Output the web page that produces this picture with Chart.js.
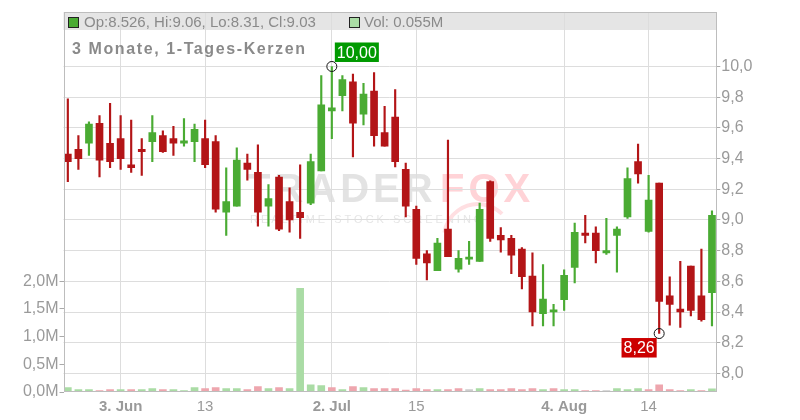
<!DOCTYPE html>
<html>
<head>
<meta charset="utf-8">
<script src="https://cdn.jsdelivr.net/npm/chart.js@4"></script>
<style>
  html, body { margin: 0; padding: 0; background: #fff; }
</style>
</head>
<body>
<canvas id="chart" width="800" height="420"></canvas>
<script>
// --- data (daily candles, last 3 months) ---
const open  = [9.43, 9.46, 9.50, 9.63, 9.50, 9.53, 9.36, 9.46, 9.51, 9.55, 9.53, 9.50, 9.51, 9.53, 9.51, 9.05, 9.09, 9.37, 9.31, 9.09, 9.28, 9.12, 9.05, 9.11, 9.32, 9.71, 9.81, 9.90, 9.69, 9.84, 9.57, 9.67, 9.33, 9.07, 8.78, 8.67, 8.94, 8.68, 8.745, 8.73, 9.25, 8.90, 8.88, 8.81, 8.635, 8.39, 8.40, 8.48, 8.69, 8.915, 8.915, 8.785, 8.90, 9.02, 9.38, 8.925, 9.24, 8.505, 8.42, 8.70, 8.505, 8.526];
const high  = [9.79, 9.55, 9.64, 9.68, 9.76, 9.68, 9.65, 9.53, 9.68, 9.58, 9.61, 9.66, 9.625, 9.65, 9.55, 9.34, 9.47, 9.43, 9.49, 9.23, 9.29, 9.21, 9.36, 9.43, 9.94, 10.00, 9.94, 9.95, 9.89, 9.96, 9.74, 9.85, 9.37, 9.09, 8.80, 8.88, 9.52, 8.80, 8.86, 9.11, 9.255, 8.95, 8.90, 8.82, 8.785, 8.71, 8.45, 8.675, 8.98, 9.03, 8.955, 9.01, 8.955, 9.34, 9.495, 9.29, 9.24, 8.63, 8.73, 8.70, 8.81, 9.06];
const low   = [9.25, 9.33, 9.42, 9.28, 9.34, 9.33, 9.31, 9.29, 9.38, 9.44, 9.42, 9.48, 9.38, 9.34, 9.05, 8.90, 9.09, 9.26, 8.96, 8.96, 8.93, 8.92, 8.88, 9.10, 9.32, 9.53, 9.71, 9.41, 9.62, 9.48, 9.48, 9.345, 9.02, 8.71, 8.61, 8.67, 8.76, 8.66, 8.71, 8.73, 8.86, 8.79, 8.65, 8.55, 8.31, 8.31, 8.31, 8.41, 8.59, 8.85, 8.72, 8.775, 8.66, 9.01, 9.24, 8.92, 8.26, 8.315, 8.30, 8.375, 8.34, 8.31];
const close = [9.38, 9.40, 9.625, 9.39, 9.38, 9.40, 9.34, 9.445, 9.57, 9.445, 9.50, 9.515, 9.59, 9.36, 9.07, 9.12, 9.39, 9.33, 9.05, 9.14, 8.94, 9.00, 9.015, 9.38, 9.75, 9.73, 9.915, 9.63, 9.82, 9.55, 9.48, 9.38, 9.09, 8.75, 8.72, 8.85, 8.76, 8.75, 8.75, 9.07, 8.88, 8.87, 8.77, 8.63, 8.40, 8.485, 8.415, 8.64, 8.92, 8.90, 8.80, 8.80, 8.94, 9.27, 9.30, 9.13, 8.47, 8.45, 8.40, 8.41, 8.35, 9.03];
// volume in millions
const volume = [0.078, 0.042, 0.042, 0.024, 0.042, 0.042, 0.042, 0.042, 0.06, 0.042, 0.042, 0.024, 0.078, 0.06, 0.078, 0.06, 0.06, 0.042, 0.096, 0.06, 0.078, 0.06, 1.87, 0.13, 0.114, 0.078, 0.042, 0.096, 0.078, 0.06, 0.06, 0.06, 0.036, 0.06, 0.042, 0.042, 0.042, 0.06, 0.042, 0.06, 0.042, 0.042, 0.06, 0.042, 0.06, 0.042, 0.06, 0.042, 0.042, 0.024, 0.024, 0.024, 0.06, 0.042, 0.06, 0.042, 0.13, 0.042, 0.024, 0.042, 0.024, 0.055];

const tickIdx    = [5, 13, 25, 33, 47, 55];
const tickLabels = ['3. Jun', '13', '2. Jul', '15', '4. Aug', '14'];
const tickBold   = [true, false, true, false, true, false];
const priceTicks = [8.0, 8.2, 8.4, 8.6, 8.8, 9.0, 9.2, 9.4, 9.6, 9.8, 10.0];
const volTicks   = [0, 0.5, 1.0, 1.5, 2.0];

const GREEN = '#4aab33', RED = '#b31517';
const VOL_GREEN = '#aadca5', VOL_RED = '#eea6ae', VOL_GRAY = '#cccccc';
const FONT = '"Liberation Sans", Arial, sans-serif';

const n = close.length;
const candleColor = close.map((c, i) => c >= open[i] ? GREEN : RED);
const volColor = close.map((c, i) => {
    if (i === 0 || c > close[i - 1]) return VOL_GREEN;
    if (c < close[i - 1]) return VOL_RED;
    return VOL_GRAY;
});

const fmt = (v, d) => v.toFixed(d).replace('.', ',');

// --- background: header band + watermark ---
const backdrop = {
    id: 'backdrop',
    beforeDraw(chart) {
        const { ctx, chartArea: a } = chart;
        ctx.save();
        ctx.fillStyle = '#e5e5e5';
        ctx.fillRect(a.left, a.top, a.right - a.left, 18);

        ctx.textBaseline = 'alphabetic';
        ctx.font = 'bold 40px ' + FONT;
        ctx.letterSpacing = '4px';
        ctx.fillStyle = '#e3e3e3';
        ctx.fillText('TRADER', 246, 202);
        ctx.fillStyle = '#ffd3d7';
        ctx.fillText('FOX', 440, 202);
        ctx.font = '11px ' + FONT;
        ctx.letterSpacing = '3px';
        ctx.fillStyle = '#e6e6e6';
        ctx.fillText('REALTIME STOCK SCREENING', 250, 223);
        // faint fox swoosh under the logo
        ctx.strokeStyle = '#ffdfe2';
        ctx.lineWidth = 4;
        ctx.beginPath();
        ctx.arc(478, 238, 34, Math.PI * 1.05, Math.PI * 1.75);
        ctx.stroke();
        ctx.restore();
    }
};

// --- frame, header texts, high/low markers ---
const overlay = {
    id: 'overlay',
    afterDraw(chart) {
        const { ctx, chartArea: a, scales } = chart;
        const last = n - 1;
        ctx.save();
        ctx.strokeStyle = '#bdbdbd';
        ctx.lineWidth = 1;
        ctx.strokeRect(Math.round(a.left) + 0.5, Math.round(a.top) + 0.5,
            Math.round(a.right - a.left) - 1, Math.round(a.bottom - a.top) - 1);

        // header
        ctx.textBaseline = 'alphabetic';
        ctx.font = '15px ' + FONT;
        ctx.fillStyle = candleColor[last];
        ctx.fillRect(68.5, 17.5, 10, 10);
        ctx.strokeStyle = '#222';
        ctx.strokeRect(68.5, 17.5, 10, 10);
        ctx.fillStyle = '#8a8a8a';
        ctx.fillText(`Op:${open[last]}, Hi:${high[last]}, Lo:${low[last]}, Cl:${close[last]}`, 84, 27);
        ctx.fillStyle = volColor[last];
        ctx.fillRect(349.5, 17.5, 10, 10);
        ctx.strokeRect(349.5, 17.5, 10, 10);
        ctx.fillStyle = '#8a8a8a';
        ctx.fillText(`Vol: ${volume[last]}M`, 364, 27);

        // title
        ctx.font = 'bold 16px ' + FONT;
        ctx.letterSpacing = '1.6px';
        ctx.fillStyle = '#8a8a8a';
        ctx.fillText('3 Monate, 1-Tages-Kerzen', 72, 54);
        ctx.letterSpacing = '0px';

        // high / low markers
        const hi = high.indexOf(Math.max(...high));
        const lo = low.indexOf(Math.min(...low));
        const marks = [
            { i: hi, v: high[hi], bg: '#009a00', up: true },
            { i: lo, v: low[lo], bg: '#cc0000', up: false }
        ];
        ctx.font = '16px ' + FONT;
        marks.forEach(m => {
            const cx = scales.x.getPixelForValue(m.i);
            const cy = scales.price.getPixelForValue(m.v);
            ctx.beginPath();
            ctx.arc(cx, cy, 5, 0, Math.PI * 2);
            ctx.strokeStyle = '#111';
            ctx.stroke();
            const txt = fmt(m.v, 2);
            const w = ctx.measureText(txt).width + 4;
            const h = 19.5;
            const bx = m.up ? cx + 3 : cx - 2.5 - w;
            const by = m.up ? cy - 4.5 - h : cy + 4.5;
            ctx.fillStyle = m.bg;
            ctx.fillRect(bx, by, w, h);
            ctx.fillStyle = '#fff';
            ctx.textBaseline = 'middle';
            ctx.fillText(txt, bx + 2, by + h / 2 + 1);
        });
        ctx.restore();
    }
};

Chart.defaults.font.family = FONT;

new Chart(document.getElementById('chart'), {
    type: 'bar',
    data: {
        datasets: [{
            label: 'Wick',
            data: high.map((h, i) => ({ x: i, y: [low[i], h] })),
            backgroundColor: candleColor,
            barThickness: 1.5,
            grouped: false,
            yAxisID: 'price',
            order: 2
        }, {
            label: 'Body',
            data: open.map((o, i) => ({ x: i, y: [o, close[i]] })),
            backgroundColor: candleColor,
            barThickness: 7,
            minBarLength: 2,
            grouped: false,
            yAxisID: 'price',
            order: 1
        }, {
            label: 'Vol',
            data: volume.map((v, i) => ({ x: i, y: v })),
            backgroundColor: volColor,
            barThickness: 7,
            grouped: false,
            yAxisID: 'vol',
            order: 3
        }]
    },
    options: {
        responsive: false,
        animation: false,
        layout: { padding: { top: 12 } },
        plugins: { legend: { display: false }, tooltip: { enabled: false } },
        scales: {
            x: {
                type: 'linear',
                offset: false,
                min: -0.41,
                max: n - 1 + 0.41,
                afterBuildTicks: axis => { axis.ticks = tickIdx.map(v => ({ value: v })); },
                afterFit: s => { s.height = 28; },
                grid: { color: '#dddddd', drawTicks: false, offset: false },
                border: { display: false },
                ticks: {
                    autoSkip: false,
                    maxRotation: 0,
                    padding: 6,
                    color: '#9a9a9a',
                    callback: v => tickLabels[tickIdx.indexOf(v)],
                    font: c => ({ size: 15, weight: tickBold[c.index] ? 'bold' : 'normal' })
                }
            },
            price: {
                type: 'linear',
                position: 'right',
                min: 7.879,
                max: 10.355,
                afterBuildTicks: axis => { axis.ticks = priceTicks.map(v => ({ value: v })); },
                afterFit: s => { s.width = 83.7; },
                grid: { color: '#dddddd', tickLength: 4, tickColor: '#aaaaaa' },
                border: { display: false },
                ticks: { padding: 1, color: '#9a9a9a', font: { size: 16 }, callback: v => fmt(v, 1) }
            },
            vol: {
                type: 'linear',
                position: 'left',
                min: 0,
                max: 6.86,
                afterBuildTicks: axis => { axis.ticks = volTicks.map(v => ({ value: v })); },
                afterFit: s => { s.width = 63.5; },
                grid: { drawOnChartArea: false, tickLength: 4, tickColor: '#aaaaaa' },
                border: { display: false },
                ticks: { padding: 1, color: '#9a9a9a', font: { size: 16 }, callback: v => fmt(v, 1) + 'M' }
            }
        }
    },
    plugins: [backdrop, overlay]
});
</script>
</body>
</html>
